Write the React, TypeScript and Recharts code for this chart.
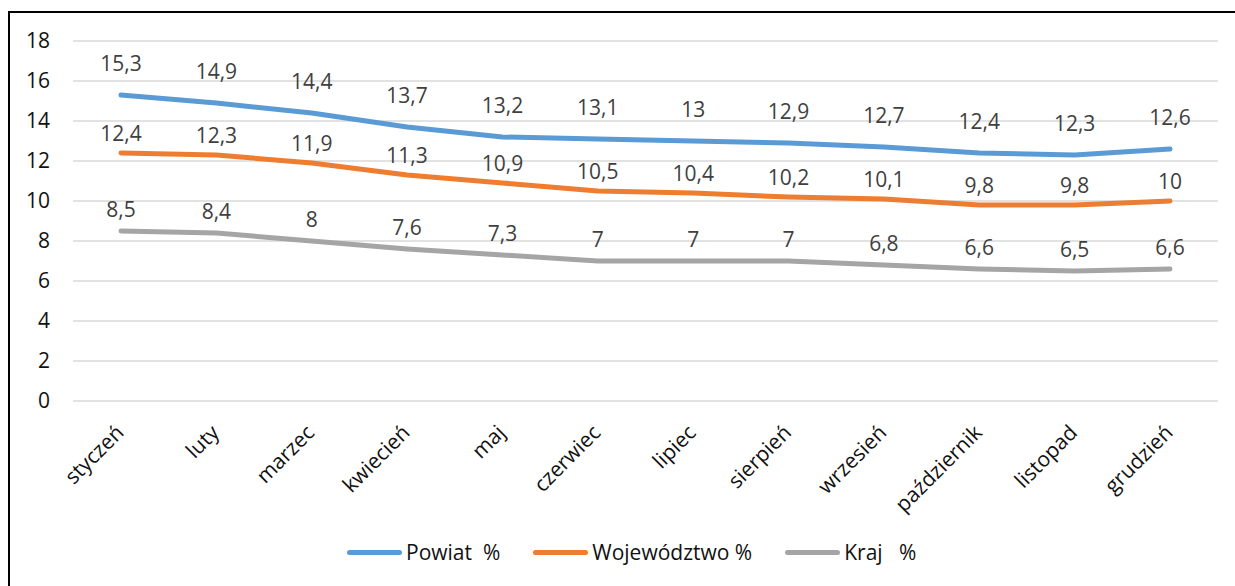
import { CartesianGrid, LabelList, Line, LineChart, XAxis, YAxis } from "recharts";

const months = [
  "styczeń",
  "luty",
  "marzec",
  "kwiecień",
  "maj",
  "czerwiec",
  "lipiec",
  "sierpień",
  "wrzesień",
  "październik",
  "listopad",
  "grudzień",
];
const powiat = [15.3, 14.9, 14.4, 13.7, 13.2, 13.1, 13, 12.9, 12.7, 12.4, 12.3, 12.6];
const wojewodztwo = [12.4, 12.3, 11.9, 11.3, 10.9, 10.5, 10.4, 10.2, 10.1, 9.8, 9.8, 10];
const kraj = [8.5, 8.4, 8, 7.6, 7.3, 7, 7, 7, 6.8, 6.6, 6.5, 6.6];
const yTicks = [0, 2, 4, 6, 8, 10, 12, 14, 16, 18];

const series = [
  { key: "powiat", name: "Powiat  %", color: "#5B9BD5", lift: 32 },
  { key: "woj", name: "Województwo %", color: "#ED7D31", lift: 20 },
  { key: "kraj", name: "Kraj   %", color: "#A5A5A5", lift: 22 },
];

const data = months.map((m, i) => ({
  month: m,
  powiat: powiat[i],
  woj: wojewodztwo[i],
  kraj: kraj[i],
}));

const FONT = "'Open Sans', sans-serif";

function fmt(v: unknown) {
  return String(v).replace(".", ",");
}

function MonthTick({ x, y, payload }: any) {
  return (
    <text
      transform={`translate(${x + 4},${y + 25}) rotate(-45)`}
      textAnchor="end"
      fontSize={21}
      fontFamily={FONT}
      fill="#111"
    >
      {payload.value}
    </text>
  );
}

function makeLabel(lift: number) {
  return function ValueLabel({ x, y, value }: any) {
    return (
      <text
        x={x}
        y={y - lift}
        textAnchor="middle"
        dominantBaseline="central"
        fontSize={21}
        fontFamily={FONT}
        fill="#404040"
      >
        {fmt(value)}
      </text>
    );
  };
}

export default function App() {
  return (
    <div style={{ position: "relative", width: 1235, height: 586, overflow: "hidden", background: "#fff" }}>
      <style>{"body{margin:0}"}</style>
      <div
        style={{
          position: "absolute",
          left: 8,
          top: 11,
          width: 1240,
          height: 600,
          border: "2px solid #000",
        }}
      />
      <div style={{ position: "absolute", left: 0, top: 0 }}>
        <LineChart
          width={1235}
          height={586}
          data={data}
          margin={{ top: 41, right: 17, bottom: 0, left: 0 }}
        >
          <CartesianGrid vertical={false} stroke="#d9d9d9" strokeWidth={1.5} />
          <XAxis
            dataKey="month"
            axisLine={false}
            tickLine={false}
            interval={0}
            padding={{ left: 48, right: 48 }}
            tick={<MonthTick />}
            height={185}
          />
          <YAxis
            width={73}
            domain={[0, 18]}
            ticks={yTicks}
            interval={0}
            axisLine={false}
            tickLine={false}
            tickSize={0}
            tickMargin={23}
            tick={{ fontSize: 21, fontFamily: FONT, fill: "#111" }}
          />
          {series.map((s) => (
            <Line
              key={s.key}
              dataKey={s.key}
              name={s.name}
              stroke={s.color}
              strokeWidth={5}
              strokeLinecap="round"
              strokeLinejoin="round"
              dot={false}
              activeDot={false}
              isAnimationActive={false}
            >
              <LabelList dataKey={s.key} content={makeLabel(s.lift)} />
            </Line>
          ))}
        </LineChart>
      </div>
      <div
        style={{
          position: "absolute",
          left: 347,
          top: 538,
          display: "flex",
          alignItems: "center",
          gap: 33,
          fontFamily: FONT,
          fontSize: 21,
          color: "#111",
        }}
      >
        {series.map((s) => (
          <div key={s.key} style={{ display: "flex", alignItems: "center", gap: 4 }}>
            <span
              style={{
                display: "inline-block",
                width: 55,
                height: 5,
                borderRadius: 3,
                background: s.color,
              }}
            />
            <span style={{ whiteSpace: "pre" }}>{s.name}</span>
          </div>
        ))}
      </div>
    </div>
  );
}
